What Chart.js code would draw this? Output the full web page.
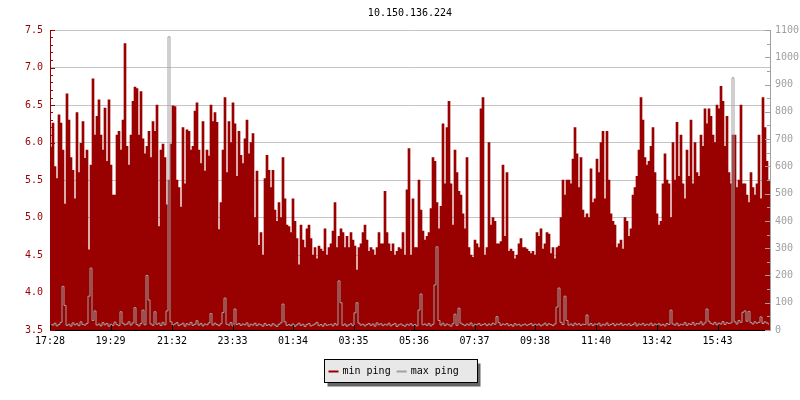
<!DOCTYPE html>
<html>
<head>
<meta charset="utf-8">
<title>10.150.136.224</title>
<script src="https://cdn.jsdelivr.net/npm/chart.js@4.4.1/dist/chart.umd.min.js"></script>
<style>
  html, body { margin: 0; padding: 0; background: #fff; }
  canvas { display: block; }
</style>
</head>
<body>
<canvas id="ping" width="800" height="400"></canvas>
<script>
var TITLE = '10.150.136.224';
var START_TIME = '17:28';
var STEP_MINUTES = 4;

var tickLabels = ['17:28', '19:29', '21:32', '23:33', '01:34', '03:35',
  '05:36', '07:37', '09:38', '11:40', '13:42', '15:43'];

var seriesNames = ['min ping', 'max ping'];

// min ping, ms (left axis)
var minPing = [
  5.94, 6.26, 5.68, 5.52, 6.37, 6.26, 5.9, 5.18, 6.65, 6.3, 5.8, 5.63, 5.25, 6.4, 5.6, 5.99, 6.28, 5.79, 5.9, 4.57,
  5.7, 6.85, 6.1, 6.35, 6.57, 6.1, 5.9, 6.46, 5.75, 6.57, 5.7, 5.3, 5.3, 6.1, 6.15, 5.9, 6.3, 7.32, 5.95, 5.7,
  6.1, 6.55, 6.74, 6.72, 6.1, 6.68, 6.05, 5.85, 5.95, 6.15, 5.8, 6.28, 6.15, 6.5, 4.88, 5.9, 5.98, 5.8, 5.17, 5.5,
  5.98, 6.49, 6.48, 5.5, 5.4, 5.14, 6.2, 5.45, 6.17, 6.15, 5.9, 5.95, 6.42, 6.53, 5.9, 5.72, 6.28, 5.62, 5.9, 5.82,
  6.5, 6.28, 6.4, 6.27, 4.84, 5.2, 5.9, 6.6, 5.6, 6.28, 6.0, 6.53, 6.25, 5.55, 6.15, 5.83, 5.72, 6.05, 6.3, 5.85,
  6.0, 6.12, 5.0, 5.62, 4.63, 4.8, 4.5, 5.52, 5.83, 5.63, 5.4, 5.63, 5.1, 4.95, 5.2, 5.0, 5.8, 5.25, 4.9, 4.88,
  4.8, 5.25, 4.95, 4.72, 4.37, 4.9, 4.7, 4.6, 4.85, 4.9, 4.72, 4.5, 4.6, 4.45, 4.62, 4.58, 4.55, 4.85, 4.5, 4.6,
  4.65, 4.82, 5.2, 4.6, 4.75, 4.85, 4.8, 4.6, 4.75, 4.6, 4.8, 4.7, 4.62, 4.3, 4.6, 4.65, 4.8, 4.9, 4.7, 4.55,
  4.6, 4.57, 4.5, 4.6, 4.8, 4.65, 4.65, 5.35, 4.8, 4.65, 4.55, 4.65, 4.5, 4.55, 4.6, 4.58, 4.8, 4.5, 5.37, 5.92,
  4.5, 5.25, 4.6, 4.6, 5.5, 5.1, 4.82, 4.7, 4.75, 4.8, 5.12, 5.8, 5.75, 5.2, 4.85, 5.15, 6.25, 5.45, 6.2, 6.55,
  5.45, 4.9, 5.9, 5.6, 5.35, 5.3, 5.05, 4.85, 5.8, 4.6, 4.5, 4.47, 4.7, 4.65, 4.6, 6.45, 6.6, 4.5, 4.6, 6.0,
  4.9, 5.0, 4.95, 4.65, 4.65, 4.68, 5.7, 4.75, 5.6, 4.55, 4.58, 4.55, 4.45, 4.5, 4.65, 4.72, 4.6, 4.6, 4.58, 4.55,
  4.52, 4.55, 4.5, 4.8, 4.75, 4.85, 4.58, 4.65, 4.8, 4.78, 4.52, 4.6, 4.45, 4.6, 4.62, 5.0, 5.5, 5.3, 5.5, 5.5,
  5.45, 5.78, 6.2, 5.85, 5.4, 5.8, 5.1, 5.0, 5.05, 5.0, 5.65, 5.2, 5.25, 5.78, 5.6, 6.0, 6.15, 5.25, 6.15, 5.5,
  5.05, 4.95, 4.9, 4.6, 4.65, 4.7, 4.58, 5.0, 4.95, 4.75, 4.85, 5.3, 5.4, 5.55, 5.9, 6.6, 6.3, 5.8, 5.7, 5.75,
  5.95, 6.2, 5.6, 5.05, 4.9, 4.95, 5.45, 5.85, 5.5, 5.45, 5.0, 6.0, 5.5, 6.27, 5.55, 6.1, 5.45, 5.25, 5.9, 5.55,
  6.3, 5.45, 6.0, 5.6, 5.55, 6.1, 5.95, 6.45, 6.25, 6.45, 6.35, 6.1, 6.0, 6.5, 6.45, 6.75, 6.55, 5.95, 6.35, 5.6,
  5.45, 6.1, 6.1, 5.4, 5.5, 6.5, 5.45, 5.45, 5.3, 5.2, 5.6, 5.4, 5.3, 5.45, 6.1, 5.25, 6.6, 6.2, 5.75, 5.5
];

// max ping, ms (right axis)
var maxPing = [
  22, 18, 25, 15, 20, 28, 160, 90, 17, 21, 14, 26, 19, 23, 16, 30, 20, 18, 24, 124,
  227, 35, 70, 18, 22, 15, 27, 19, 24, 14, 21, 17, 29, 20, 16, 67, 25, 19, 22, 30,
  18, 26, 82, 20, 15, 24, 73, 19, 200, 110, 22, 17, 67, 21, 25, 16, 28, 19, 70, 1075,
  30, 18, 22, 27, 16, 20, 25, 14, 23, 19, 28, 17, 21, 34, 18, 24, 15, 22, 19, 26,
  60, 18, 25, 20, 16, 23, 64, 117, 21, 18, 27, 15, 77, 20, 24, 17, 22, 19, 26, 14,
  21, 18, 25, 16, 22, 19, 14, 24, 17, 20, 15, 23, 18, 13, 21, 26, 95, 30, 17, 20,
  16, 22, 14, 19, 25, 17, 21, 13, 20, 24, 15, 18, 22, 28, 16, 20, 14, 23, 17, 19,
  21, 15, 24, 18, 180, 100, 17, 22, 14, 19, 23, 16, 63, 100, 25, 18, 21, 15, 20, 24,
  17, 22, 14, 26, 19, 23, 16, 21, 18, 25, 15, 20, 24, 13, 19, 22, 17, 14, 21, 18,
  23, 16, 20, 15, 73, 132, 19, 22, 17, 24, 15, 21, 165, 305, 35, 18, 25, 16, 22, 19,
  14, 23, 58, 17, 80, 25, 20, 16, 22, 18, 26, 15, 21, 19, 24, 17, 20, 23, 16, 22,
  18, 25, 21, 49, 27, 17, 22, 19, 24, 16, 20, 14, 23, 18, 21, 15, 19, 22, 17, 20,
  24, 16, 21, 18, 22, 15, 19, 25, 17, 23, 20, 16, 22, 84, 154, 28, 20, 124, 35, 18,
  22, 16, 25, 19, 23, 17, 21, 20, 55, 18, 24, 16, 22, 19, 25, 15, 21, 18, 26, 17,
  20, 24, 16, 22, 19, 25, 17, 21, 18, 23, 16, 20, 26, 15, 22, 19, 24, 17, 21, 18,
  25, 16, 22, 19, 23, 17, 21, 15, 24, 20, 73, 22, 18, 25, 16, 21, 19, 27, 17, 23,
  20, 28, 18, 24, 22, 30, 19, 26, 77, 32, 24, 21, 28, 19, 25, 22, 31, 20, 27, 24,
  26, 925, 30, 22, 35, 28, 65, 70, 32, 68, 27, 22, 30, 25, 28, 48, 24, 30, 26, 22
];

(function () {

  'use strict';

  var RED = '#990000';
  var GRAY = '#a0a0a0';
  var GRID = '#c4c4c4';
  var FONT = 'DejaVu Sans Mono';

  /**
   * "HH:MM" to minutes after START_TIME (wraps past midnight).
   */
  function offsetFromStart(label) {
    var p = label.split(':');
    var s = START_TIME.split(':');
    var d = (+p[0] * 60 + +p[1]) - (+s[0] * 60 + +s[1]);
    return d < 0 ? d + 1440 : d;
  }

  var tickValues = tickLabels.map(offsetFromStart);

  function toPoints(values) {
    return values.map(function (v, i) {
      return { x: i * STEP_MINUTES + STEP_MINUTES / 2, y: v };
    });
  }

  /**
   * Short tick marks pointing into the plot, like the original.
   */
  var innerTicks = {
    id: 'innerTicks',
    afterDatasetsDraw: function (chart) {
      var ctx = chart.ctx;
      var area = chart.chartArea;
      var sy = chart.scales.y;
      var sy1 = chart.scales.y1;
      var sx = chart.scales.x;
      var k, p, len;
      ctx.save();
      ctx.lineWidth = 1;

      ctx.strokeStyle = RED;
      ctx.beginPath();
      for (k = 0; k <= 40; k++) {
        p = Math.round(sy.getPixelForValue(sy.min + k * 0.1)) + 0.5;
        len = k % 5 === 0 ? 5 : 3;
        ctx.moveTo(area.left, p);
        ctx.lineTo(area.left + len, p);
      }
      ctx.stroke();

      ctx.strokeStyle = GRAY;
      ctx.beginPath();
      for (k = 0; k <= 22; k++) {
        p = Math.round(sy1.getPixelForValue(k * 50)) + 0.5;
        len = k % 2 === 0 ? 5 : 3;
        ctx.moveTo(area.right - len, p);
        ctx.lineTo(area.right, p);
      }
      ctx.stroke();

      ctx.strokeStyle = '#000';
      ctx.beginPath();
      tickValues.forEach(function (v) {
        var px = Math.round(sx.getPixelForValue(v)) + 0.5;
        ctx.moveTo(px, area.bottom);
        ctx.lineTo(px, area.bottom - 5);
      });
      ctx.stroke();
      ctx.restore();
    }
  };

  /**
   * Title on top and boxed legend with drop shadow at the bottom.
   */
  var titleAndLegend = {
    id: 'titleAndLegend',
    afterDraw: function (chart) {
      var ctx = chart.ctx;
      var area = chart.chartArea;
      ctx.save();
      ctx.font = '10px "' + FONT + '"';
      ctx.fillStyle = '#000';
      ctx.textAlign = 'center';
      ctx.textBaseline = 'middle';
      ctx.fillText(TITLE, (area.left + area.right) / 2, 13);

      var boxW = 153, boxH = 23;
      var bx = Math.round(chart.width / 2 - boxW / 2) + 0.5;
      var by = 359.5;
      ctx.fillStyle = '#666';
      ctx.fillRect(bx + 3, by + 4, boxW, boxH);
      ctx.fillStyle = '#e8e8e8';
      ctx.fillRect(bx, by, boxW, boxH);
      ctx.strokeStyle = '#000';
      ctx.lineWidth = 1;
      ctx.strokeRect(bx, by, boxW, boxH);

      var x = bx + 4;
      var cy = by + boxH / 2;
      ctx.textAlign = 'left';
      chart.data.datasets.forEach(function (ds) {
        ctx.strokeStyle = ds.legendColor;
        ctx.lineWidth = 2;
        ctx.beginPath();
        ctx.moveTo(x, cy + 0.5);
        ctx.lineTo(x + 10, cy + 0.5);
        ctx.stroke();
        ctx.fillStyle = '#000';
        ctx.fillText(ds.label, x + 14, cy);
        x += 14 + ctx.measureText(ds.label).width + 6;
      });
      ctx.restore();
    }
  };

  Chart.defaults.font.family = FONT;
  Chart.defaults.font.size = 10;

  new Chart(document.getElementById('ping'), {
    data: {
      datasets: [{
        type: 'bar',
        label: seriesNames[0],
        data: toPoints(minPing),
        backgroundColor: RED,
        legendColor: RED,
        borderWidth: 0,
        barPercentage: 1,
        categoryPercentage: 1,
        yAxisID: 'y',
        order: 1
      }, {
        type: 'line',
        label: seriesNames[1],
        data: toPoints(maxPing),
        borderColor: GRAY,
        legendColor: GRAY,
        borderWidth: 1,
        stepped: 'middle',
        pointRadius: 0,
        fill: false,
        yAxisID: 'y1',
        order: 0
      }]
    },
    options: {
      responsive: false,
      animation: false,
      layout: { padding: { top: 30, left: 0, right: 0, bottom: 0 } },
      plugins: {
        legend: { display: false },
        title: { display: false },
        tooltip: { enabled: false }
      },
      scales: {
        x: {
          type: 'linear',
          min: 0,
          max: minPing.length * STEP_MINUTES,
          offset: false,
          grid: { display: false, drawTicks: false },
          border: { color: '#000' },
          afterBuildTicks: function (scale) {
            scale.ticks = tickValues.map(function (v) { return { value: v }; });
          },
          afterFit: function (scale) { scale.height = 70; },
          ticks: {
            color: '#000',
            padding: 5,
            autoSkip: false,
            maxRotation: 0,
            callback: function (value) {
              var idx = tickValues.indexOf(value);
              return idx >= 0 ? tickLabels[idx] : '';
            }
          }
        },
        y: {
          position: 'left',
          min: 3.5,
          max: 7.5,
          grid: { color: GRID, drawTicks: false },
          border: { color: RED },
          afterFit: function (scale) { scale.width = 50; },
          ticks: {
            color: RED,
            stepSize: 0.5,
            padding: 7,
            callback: function (v) { return v.toFixed(1); }
          }
        },
        y1: {
          position: 'right',
          min: 0,
          max: 1100,
          grid: { display: false, drawTicks: false },
          border: { color: GRAY },
          afterFit: function (scale) { scale.width = 30; },
          ticks: {
            color: GRAY,
            stepSize: 100,
            padding: 5,
            callback: function (v) { return String(v); }
          }
        }
      }
    },
    plugins: [innerTicks, titleAndLegend]
  });

})();
</script>
</body>
</html>
